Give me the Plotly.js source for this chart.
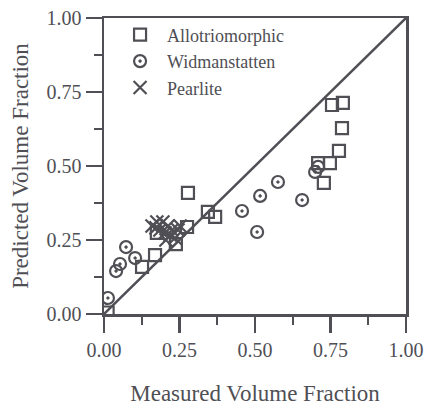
<!DOCTYPE html>
<html>
<head>
<meta charset="utf-8">
<script src="https://cdn.plot.ly/plotly-3.0.1.min.js"></script>
<style>html,body{margin:0;padding:0;background:#fff;}#chart{width:424px;height:411px;}</style>
</head>
<body>
<div id="chart"></div>
<script>
// Allotriomorphic (squares)
const alloX = [0.755, 0.791, 0.788, 0.778, 0.748, 0.709, 0.728, 0.278, 0.344, 0.368, 0.275, 0.238, 0.175, 0.169, 0.126, 0.012];
const alloY = [0.706, 0.713, 0.628, 0.551, 0.510, 0.510, 0.443, 0.409, 0.345, 0.328, 0.294, 0.236, 0.274, 0.199, 0.159, 0.005];
// Widmanstatten (dotted circles)
const widX = [0.073, 0.040, 0.053, 0.103, 0.013, 0.576, 0.517, 0.457, 0.507, 0.656, 0.699, 0.709];
const widY = [0.226, 0.145, 0.169, 0.189, 0.054, 0.446, 0.399, 0.348, 0.277, 0.385, 0.480, 0.497];
// Pearlite (crosses)
const pearX = [0.159, 0.175, 0.195, 0.212, 0.225, 0.185, 0.202, 0.219, 0.235, 0.205, 0.245, 0.172, 0.252];
const pearY = [0.297, 0.311, 0.311, 0.297, 0.284, 0.284, 0.274, 0.267, 0.257, 0.250, 0.284, 0.291, 0.297];
// y = x reference line
const lineX = [0, 1];
const lineY = [0, 1];
const tickVals = [0, 0.25, 0.5, 0.75, 1.0];
const tickText = ["0.00", "0.25", "0.50", "0.75", "1.00"];

const ink = "#4f4f55";
const fontFam = "'Liberation Serif', 'Times New Roman', serif";

const traces = [
  {x: lineX, y: lineY, mode: "lines", line: {color: ink, width: 2.5}, showlegend: false, hoverinfo: "skip"},
  {x: alloX, y: alloY, mode: "markers", name: "Allotriomorphic",
   marker: {symbol: "square-open", size: 12, color: ink, line: {width: 2.2, color: ink}}},
  {x: widX, y: widY, mode: "markers", name: "Widmanstatten",
   marker: {symbol: "circle-open-dot", size: 12, color: ink, line: {width: 2.2, color: ink}}},
  {x: pearX, y: pearY, mode: "markers", name: "Pearlite",
   marker: {symbol: "x-thin-open", size: 13, color: ink, line: {width: 2.2, color: ink}}}
];

const axisCommon = {
  range: [0, 1],
  tickvals: tickVals,
  ticktext: tickText,
  ticks: "outside",
  ticklen: 16,
  tickwidth: 2.2,
  tickcolor: ink,
  showline: true,
  linecolor: ink,
  linewidth: 2.5,
  mirror: true,
  showgrid: false,
  zeroline: false,
  minor: {ticks: "outside", ticklen: 8, tickwidth: 2, tickcolor: ink, dtick: 0.125, showgrid: false},
  tickfont: {family: fontFam, size: 20, color: ink}
};

const layout = {
  width: 424, height: 411,
  margin: {l: 104, r: 18, t: 18, b: 97},
  paper_bgcolor: "#ffffff",
  plot_bgcolor: "#ffffff",
  showlegend: true,
  legend: {x: 0.03, y: 1.005, xanchor: "left", yanchor: "top", bgcolor: "rgba(0,0,0,0)",
           font: {family: fontFam, size: 18, color: ink}, itemwidth: 44, tracegroupgap: 0},
  xaxis: Object.assign({}, axisCommon, {
    title: {text: "Measured Volume Fraction", font: {family: fontFam, size: 23, color: ink}, standoff: 26}
  }),
  yaxis: Object.assign({}, axisCommon, {
    title: {text: "Predicted Volume Fraction", font: {family: fontFam, size: 23, color: ink}, standoff: 12}
  })
};

Plotly.newPlot("chart", traces, layout, {displayModeBar: false, staticPlot: true});
</script>
</body>
</html>
